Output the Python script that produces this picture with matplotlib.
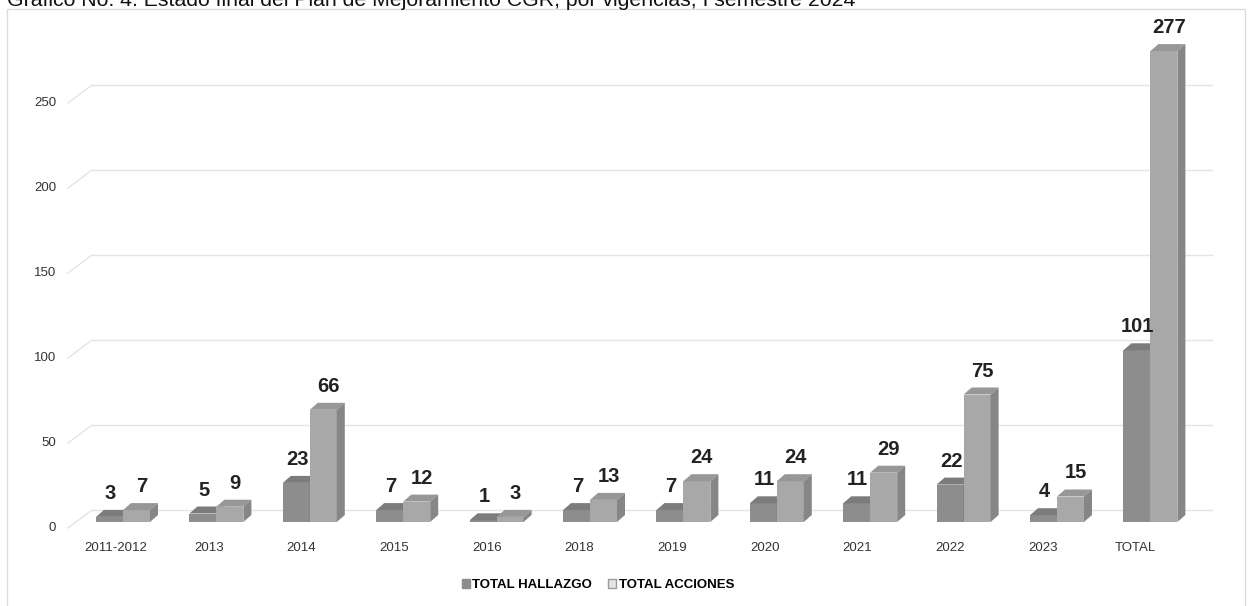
import numpy as np
import matplotlib
matplotlib.use("Agg")
import matplotlib.pyplot as plt
from matplotlib.patches import Polygon, Patch, Rectangle

categories = ["2011-2012", "2013", "2014", "2015", "2016", "2018", "2019",
              "2020", "2021", "2022", "2023", "TOTAL"]
hallazgo = [3, 5, 23, 7, 1, 7, 7, 11, 11, 22, 4, 101]
acciones = [7, 9, 66, 12, 3, 13, 24, 24, 29, 75, 15, 277]
y_ticks = [0, 50, 100, 150, 200, 250]

SANS = ["Liberation Sans", "DejaVu Sans"]
W, H = 1250, 606
PX_X = 93.4     # pixels per category
PX_Y = 1.70     # pixels per unit
X0, Y0 = 123, 522   # pixel of category 0 / value 0 on the front face

fig = plt.figure(figsize=(W / 100, H / 100), dpi=100)
ax = fig.add_axes([0, 0, 1, 1])
ax.set_xlim(-X0 / PX_X, (W - X0) / PX_X)
ax.set_ylim(-(H - Y0) / PX_Y, Y0 / PX_Y)
ax.axis("off")


def px(dx):
    return dx / PX_X


def py(dy):
    return dy / PX_Y


# outer frame
ax.add_patch(Rectangle((px(7 - X0), py(Y0 - 640)), px(1238), py(631),
                       fill=False, ec="#dcdcdc", lw=1.0, zorder=0))

# back-wall gridlines with the perspective stub on the left
for v in y_ticks:
    yb = v + py(12)
    yf = v - py(6)
    ax.plot([px(92 - X0), px(1212 - X0)], [yb, yb], color="#e4e4e4", lw=1.0, zorder=1)
    ax.plot([px(68 - X0), px(92 - X0)], [yf, yb], color="#e4e4e4", lw=1.0, zorder=1)
    ax.text(px(56 - X0), yf, str(v), ha="right", va="center",
            fontsize=9.5, family=SANS, color="#333333")

w = px(27)
ddx, ddy = px(8), py(7)
x = np.arange(len(categories))


def box(left, val, front, top, side):
    ax.bar(left, val, width=w, align="edge", color=front, lw=0, zorder=3)
    ax.add_patch(Polygon([(left, val), (left + ddx, val + ddy),
                          (left + w + ddx, val + ddy), (left + w, val)],
                         closed=True, fc=top, ec="none", zorder=3))
    ax.add_patch(Polygon([(left + w, 0), (left + w + ddx, ddy),
                          (left + w + ddx, val + ddy), (left + w, val)],
                         closed=True, fc=side, ec="none", zorder=3))


for i in x:
    box(i - w, hallazgo[i], "#8d8d8d", "#7c7c7c", "#707070")
    box(i, acciones[i], "#a8a8a8", "#979797", "#868686")
    ax.text(i - w / 2 + px(1), hallazgo[i] + py(14), str(hallazgo[i]),
            ha="center", va="bottom", fontsize=14.5, fontweight="bold",
            family=SANS, color="#222222", zorder=5)
    ax.text(i + w / 2 + px(5), acciones[i] + py(14), str(acciones[i]),
            ha="center", va="bottom", fontsize=14.5, fontweight="bold",
            family=SANS, color="#222222", zorder=5)
    ax.text(i - px(7) - px(0.7) * i, py(-26), categories[i], ha="center",
            va="center", fontsize=9.5, family=SANS, color="#333333")

# caption running off the top edge
ax.text(px(7 - X0), py(Y0 - 6),
        "Gráfico No. 4. Estado final del Plan de Mejoramiento CGR, por vigencias, I semestre 2024",
        ha="left", va="baseline", fontsize=15.3, family=SANS, color="#111111")

handles = [Patch(fc="#8d8d8d", ec="#8d8d8d", label="TOTAL HALLAZGO"),
           Patch(fc="#e6e6e6", ec="#9a9a9a", label="TOTAL ACCIONES")]
fig.legend(handles=handles, loc="center", bbox_to_anchor=(598 / W, 1 - 585 / H),
           ncol=2, frameon=False, handlelength=0.6, handleheight=0.6,
           handletextpad=0.2, columnspacing=1.2,
           prop={"family": SANS, "weight": "bold", "size": 9.5})

fig.savefig("out.png", dpi=100)
